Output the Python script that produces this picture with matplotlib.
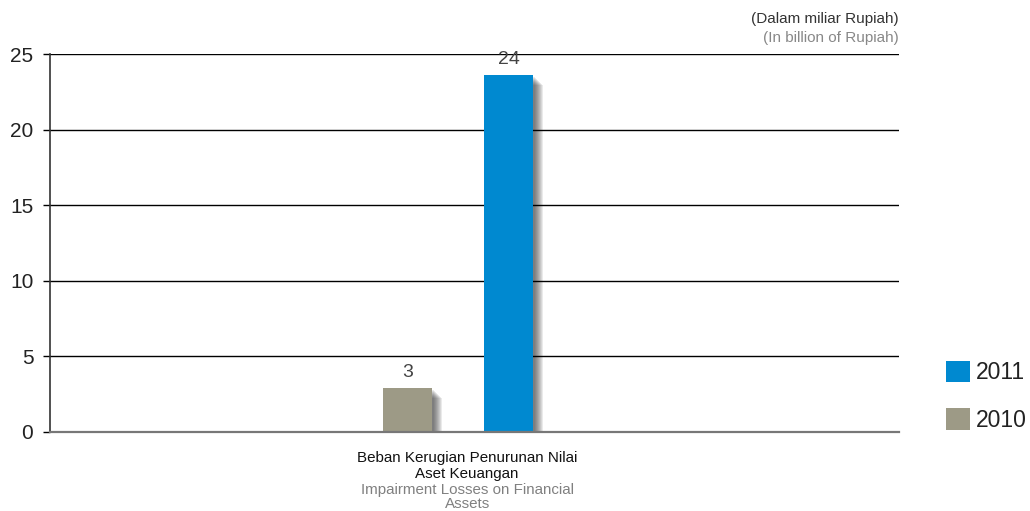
import matplotlib.pyplot as plt
import matplotlib.transforms as mtransforms
import numpy as np

category_lines = ["Beban Kerugian Penurunan Nilai", "Aset Keuangan",
                  "Impairment Losses on Financial", "Assets"]
years = ["2010", "2011"]
values = [2.9, 23.6]
colors = ["#9d9a86", "#0089d0"]
yticks = [0, 5, 10, 15, 20, 25]

plt.rcParams['font.family'] = ['Liberation Sans', 'DejaVu Sans']

fig = plt.figure(figsize=(10.3, 5.11), dpi=100)
ax = fig.add_axes([0.0485, 0.1546, 0.8243, 0.7397])

pos = np.array([-1.0, 1.0])
width = 0.97

# soft drop shadow behind each bar, built from a few offset translucent copies
for d in range(2, 11):
    tr = mtransforms.offset_copy(ax.transData, fig=fig, x=d, y=-d, units='dots')
    ax.bar(pos, values, width=width, color="#333333", alpha=0.1,
           transform=tr, zorder=0.3, linewidth=0)

bars = ax.bar(pos, values, width=width, color=colors, zorder=2, linewidth=0)

for p, v in zip(pos, values):
    ax.annotate("{:.0f}".format(v), (p, v), xytext=(0, 11.5),
                textcoords="offset points", ha="center", va="center",
                fontsize=14, color="#444444")

ax.set_xlim(-8.08, 8.73)
ax.set_ylim(0, 25)
ax.set_yticks(yticks)
ax.set_yticklabels([str(t) for t in yticks], fontsize=15, color="#222222")
ax.tick_params(axis="y", length=5, width=1, color="black", pad=7)
ax.set_xticks([])

ax.yaxis.grid(True, color="black", linewidth=1)
ax.set_axisbelow(True)

for s in ["top", "right"]:
    ax.spines[s].set_visible(False)
ax.spines["left"].set_color("#333333")
ax.spines["left"].set_linewidth(1.2)
ax.spines["bottom"].set_color("#777777")
ax.spines["bottom"].set_linewidth(1.6)

# category label, Indonesian over English
xt = ax.get_xaxis_transform()
line_y = [-0.069, -0.111, -0.153, -0.191]
line_c = ["#111111", "#111111", "#808080", "#808080"]
for txt, yy, c in zip(category_lines, line_y, line_c):
    ax.text(0.18, yy, txt, transform=xt, ha="center", va="center",
            fontsize=10.9, color=c)

# unit note at top right
ax.text(1.0, 1.0926, "(Dalam miliar Rupiah)", transform=ax.transAxes,
        ha="right", va="center", fontsize=11, color="#333333")
ax.text(1.0, 1.0423, "(In billion of Rupiah)", transform=ax.transAxes,
        ha="right", va="center", fontsize=11, color="#888888")

handles = [bars[1], bars[0]]
leg = ax.legend(handles, [years[1], years[0]], loc="lower left",
                bbox_to_anchor=(1.0554, 0.0), frameon=False, fontsize=16.5,
                handlelength=1.06, handleheight=1.06, handletextpad=0.24,
                labelspacing=1.05, borderpad=0, borderaxespad=0)
for t in leg.get_texts():
    t.set_color("#222222")

fig.savefig("out.png", dpi=100)
